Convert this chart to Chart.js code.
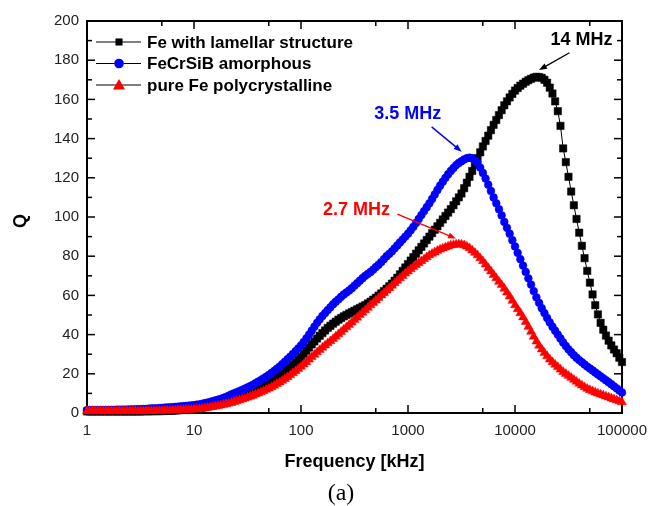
<!DOCTYPE html>
<html>
<head>
<meta charset="utf-8">
<script src="https://cdn.jsdelivr.net/npm/chart.js@4/dist/chart.umd.min.js"></script>
<style>
html,body{margin:0;padding:0;background:#ffffff;}
#wrap{width:659px;height:506px;position:relative;}
</style>
</head>
<body>
<div id="wrap"><canvas id="c" width="659" height="506"></canvas></div>
<script>
// ---------- data ----------
const frequencyKHz = [
  1,1.059,1.122,1.189,1.259,1.334,1.413,1.496,1.585,1.679,1.778,1.884,1.995,2.113,2.239,2.371,2.512,2.661,2.818,2.985,
  3.162,3.350,3.548,3.758,3.981,4.217,4.467,4.732,5.012,5.309,5.623,5.957,6.310,6.683,7.079,7.499,7.943,8.414,8.913,9.441,
  10,10.59,11.22,11.89,12.59,13.34,14.13,14.96,15.85,16.79,17.78,18.84,19.95,21.13,22.39,23.71,25.12,26.61,28.18,29.85,
  31.62,33.50,35.48,37.58,39.81,42.17,44.67,47.32,50.12,53.09,56.23,59.57,63.10,66.83,70.79,74.99,79.43,84.14,89.13,94.41,
  100,105.9,112.2,118.9,125.9,133.4,141.3,149.6,158.5,167.9,177.8,188.4,199.5,211.3,223.9,237.1,251.2,266.1,281.8,298.5,
  316.2,335.0,354.8,375.8,398.1,421.7,446.7,473.2,501.2,530.9,562.3,595.7,631.0,668.3,707.9,749.9,794.3,841.4,891.3,944.1,
  1000,1059,1122,1189,1259,1334,1413,1496,1585,1679,1778,1884,1995,2113,2239,2371,2512,2661,2818,2985,
  3162,3350,3548,3758,3981,4217,4467,4732,5012,5309,5623,5957,6310,6683,7079,7499,7943,8414,8913,9441,
  10000,10590,11220,11890,12590,13340,14130,14960,15850,16790,17780,18840,19950,21130,22390,23710,25120,26610,28180,29850,
  31620,33500,35480,37580,39810,42170,44670,47320,50120,53090,56230,59570,63100,66830,70790,74990,79430,84140,89130,94410,
  100000
];
const qLamellarFe = [
  0.8,0.8,0.8,0.8,0.8,0.8,0.8,0.8,0.8,0.8,0.8,0.8,0.8,0.8,0.8,0.8,0.8,0.8,0.8,0.8,
  0.8,0.85,0.9,0.9,0.9,0.95,1.0,1.0,1.0,1.05,1.1,1.15,1.2,1.3,1.4,1.5,1.6,1.7,1.8,1.95,
  2.1,2.3,2.5,2.75,3.0,3.3,3.6,3.95,4.3,4.7,5.1,5.55,6.0,6.55,7.1,7.65,8.2,8.8,9.4,10.0,
  10.6,11.25,11.9,12.55,13.2,13.9,14.6,15.3,16.0,16.8,17.6,18.45,19.3,20.25,21.2,22.25,23.3,24.55,25.8,27.2,
  28.6,30.2,31.8,33.4,35.0,36.5,38.0,39.4,40.8,42.1,43.4,44.5,45.6,46.6,47.6,48.45,49.3,50.05,50.8,51.5,
  52.2,52.9,53.6,54.3,55.0,55.9,56.8,57.8,58.8,59.9,61.0,62.2,63.4,64.7,66.0,67.5,69.0,70.75,72.5,74.25,
  76.0,77.75,79.5,81.25,83.0,84.75,86.5,88.25,90.0,91.75,93.5,95.25,97.0,98.75,100.5,102.25,104.0,106.0,108.0,110.0,
  112.0,114.7,117.5,120.5,123.5,126.7,130.0,133.0,136.0,138.8,141.5,144.3,147.0,149.5,152.0,154.5,157.0,159.0,161.0,162.8,
  164.5,165.8,167.0,168.0,169.0,169.8,170.5,171.1,171.5,171.4,171.0,170.0,168.5,166.0,163.0,159.0,154.0,146.5,135.0,128.0,
  120.5,113.0,106.0,99.0,92.0,85.3,79.0,72.5,66.5,60.5,55.0,50.3,46.0,42.5,39.5,36.9,34.5,32.4,30.5,28.2,
  26.0
];
const qFeCrSiB = [
  1.5,1.5,1.5,1.5,1.5,1.5,1.5,1.55,1.6,1.6,1.6,1.65,1.7,1.7,1.7,1.75,1.8,1.85,1.9,1.95,
  2.0,2.05,2.1,2.2,2.3,2.35,2.4,2.5,2.6,2.7,2.8,2.9,3.0,3.1,3.2,3.35,3.5,3.6,3.7,3.85,
  4.0,4.2,4.4,4.7,5.0,5.3,5.6,6.0,6.4,6.8,7.2,7.7,8.2,8.85,9.5,10.05,10.6,11.2,11.8,12.4,
  13.0,13.7,14.4,15.2,16.0,16.8,17.6,18.5,19.4,20.45,21.5,22.6,23.7,24.95,26.2,27.5,28.8,30.15,31.5,33.0,
  34.5,36.2,38.0,40.0,42.0,44.0,46.0,47.8,49.5,51.0,52.5,54.0,55.5,56.8,58.0,59.3,60.5,61.5,62.5,63.7,
  65.0,66.2,67.5,68.8,70.0,71.0,72.0,73.2,74.5,75.7,77.0,78.5,80.0,81.2,82.5,84.0,85.5,87.0,88.5,90.0,
  91.5,93.2,95.0,97.0,99.0,101.0,103.0,105.0,107.0,109.2,111.5,113.8,116.0,118.0,120.0,121.8,123.5,125.0,126.5,127.6,
  128.5,129.4,130.0,130.3,130.0,129.0,127.5,125.2,122.5,119.6,116.5,113.3,110.0,107.0,104.0,100.8,97.5,94.5,91.5,88.2,
  85.0,81.7,78.5,75.2,72.0,68.7,65.5,62.2,59.0,56.2,53.5,51.0,48.5,46.2,44.0,42.0,40.0,38.0,36.0,34.2,
  32.5,31.0,29.5,28.2,27.0,25.9,24.8,23.7,22.7,21.7,20.7,19.7,18.7,17.7,16.7,15.7,14.7,13.6,12.6,11.5,
  10.5
];
const qPolyFe = [
  1.0,1.0,1.0,1.0,1.0,1.0,1.0,1.0,1.0,1.0,1.0,1.0,1.0,1.0,1.0,1.0,1.0,1.0,1.0,1.0,
  1.0,1.0,1.0,1.05,1.1,1.1,1.1,1.15,1.2,1.25,1.3,1.35,1.4,1.45,1.5,1.55,1.6,1.65,1.7,1.75,
  1.8,1.95,2.1,2.3,2.5,2.7,2.9,3.15,3.4,3.65,3.9,4.2,4.5,4.85,5.2,5.65,6.1,6.55,7.0,7.45,
  7.9,8.4,8.9,9.45,10.0,10.6,11.2,11.85,12.5,13.25,14.0,14.8,15.6,16.5,17.4,18.35,19.3,20.35,21.4,22.5,
  23.6,24.8,26.0,27.3,28.6,29.8,31.0,32.2,33.4,34.5,35.6,36.7,37.8,39.0,40.2,41.4,42.6,43.8,45.0,46.2,
  47.5,48.7,50.0,51.2,52.5,53.7,55.0,56.2,57.5,58.7,60.0,61.2,62.5,63.7,65.0,66.2,67.5,68.8,70.0,71.2,
  72.3,73.4,74.5,75.5,76.5,77.5,78.5,79.5,80.5,81.3,82.0,82.8,83.5,84.0,84.5,85.0,85.5,85.8,86.0,86.1,
  86.0,85.6,85.0,84.1,83.0,81.8,80.5,79.0,77.5,75.8,74.0,72.3,70.5,68.8,67.0,65.3,63.5,61.5,59.5,57.3,
  55.0,53.0,51.0,48.8,46.5,44.0,41.5,39.0,36.5,34.4,32.5,30.7,29.0,27.4,26.0,24.7,23.5,22.2,21.0,20.0,
  19.0,18.0,17.0,16.0,15.0,14.1,13.2,12.4,11.7,11.1,10.5,10.0,9.5,9.0,8.5,8.0,7.5,7.0,6.5,6.0,
  5.5
];
const seriesNames = ['Fe with lamellar structure', 'FeCrSiB amorphous', 'pure Fe polycrystalline'];
const xTickValues = [1, 10, 100, 1000, 10000, 100000];
const yTickValues = [0, 20, 40, 60, 80, 100, 120, 140, 160, 180, 200];
const peakLabels = ['14 MHz', '3.5 MHz', '2.7 MHz'];
// peak annotation anchors in data space (frequency kHz, Q)
const peakLabelAt = [[41800, 191], [993, 153], [330, 104]];
const peakArrowFrom = [[32300, 183.8], [1663, 146], [795, 101.5]];
const peakArrowTo = [[16750, 175], [3175, 133.3], [2810, 89]];

// ---------- styles ----------
const seriesColors = ['#000000', '#0000ff', '#ff0000'];
const seriesShapes = ['rect', 'circle', 'triangle'];
const seriesRadius = [5.2, 3.9, 5.2];
const legendRadius = [5.0, 4.8, 7.0];
const SANS = '"Liberation Sans", Arial, sans-serif';

function toPoints(ys) { return frequencyKHz.map((f, i) => ({x: f, y: ys[i]})); }
const seriesValues = [qLamellarFe, qFeCrSiB, qPolyFe];

const datasets = seriesValues.map((vals, i) => ({
  label: seriesNames[i],
  data: toPoints(vals),
  borderColor: '#000000',
  borderWidth: 1,
  backgroundColor: seriesColors[i],
  pointBackgroundColor: seriesColors[i],
  pointBorderColor: seriesColors[i],
  pointBorderWidth: 0.5,
  pointStyle: seriesShapes[i],
  pointRadius: seriesRadius[i],
  tension: 0,
  clip: false,
  order: 3 - i
}));

function drawShape(ctx, shape, x, y, r, color) {
  ctx.save();
  ctx.fillStyle = color;
  ctx.beginPath();
  if (shape === 'rect') {
    const s = r * Math.SQRT1_2;
    ctx.rect(x - s, y - s, 2 * s, 2 * s);
  } else if (shape === 'circle') {
    ctx.arc(x, y, r, 0, Math.PI * 2);
  } else {
    ctx.moveTo(x, y - r);
    ctx.lineTo(x + r * Math.sin(2 * Math.PI / 3), y - r * Math.cos(2 * Math.PI / 3));
    ctx.lineTo(x + r * Math.sin(4 * Math.PI / 3), y - r * Math.cos(4 * Math.PI / 3));
    ctx.closePath();
  }
  ctx.fill();
  ctx.restore();
}

function seg(ctx, x1, y1, x2, y2) {
  ctx.beginPath(); ctx.moveTo(x1, y1); ctx.lineTo(x2, y2); ctx.stroke();
}

const framePlugin = {
  id: 'framePlugin',
  beforeDatasetsDraw(chart) {
    const {ctx, chartArea: a, scales: {x, y}} = chart;
    ctx.save();
    ctx.strokeStyle = '#000';
    ctx.lineWidth = 2;
    ctx.strokeRect(a.left, a.top, a.right - a.left, a.bottom - a.top);
    ctx.lineWidth = 1.5;
    for (let v = 0; v <= 200; v += 10) {
      const py = y.getPixelForValue(v);
      const len = (v % 20 === 0) ? 8 : 5;
      seg(ctx, a.left, py, a.left + len, py);
      seg(ctx, a.right, py, a.right - len, py);
    }
    xTickValues.forEach(d => {
      const px = x.getPixelForValue(d);
      seg(ctx, px, a.bottom, px, a.bottom - 8);
      seg(ctx, px, a.top, px, a.top + 8);
      if (d * 5 < 100000) {
        const pm = x.getPixelForValue(d * 5);
        seg(ctx, pm, a.bottom, pm, a.bottom - 5);
        seg(ctx, pm, a.top, pm, a.top + 5);
      }
    });
    ctx.restore();
  },
  afterDraw(chart) {
    const {ctx, chartArea: a, scales: {x, y}} = chart;
    ctx.save();
    // legend
    ctx.font = 'bold 17px ' + SANS;
    ctx.textBaseline = 'middle';
    ctx.textAlign = 'left';
    seriesNames.forEach((name, i) => {
      const ly = a.top + 21 + i * 21.5;
      ctx.strokeStyle = '#000'; ctx.lineWidth = 1.2;
      seg(ctx, a.left + 9, ly, a.left + 54, ly);
      drawShape(ctx, seriesShapes[i], a.left + 32, ly + (i === 2 ? 1 : 0), legendRadius[i], seriesColors[i]);
      ctx.fillStyle = '#000';
      ctx.fillText(name, a.left + 60, ly + 1);
    });
    // peak annotations
    peakLabels.forEach((txt, i) => {
      const c = seriesColors[i];
      ctx.fillStyle = c; ctx.strokeStyle = c;
      ctx.font = 'bold 18px ' + SANS;
      ctx.textAlign = 'center';
      ctx.textBaseline = 'middle';
      ctx.fillText(txt, x.getPixelForValue(peakLabelAt[i][0]), y.getPixelForValue(peakLabelAt[i][1]) + 1);
      const x1 = x.getPixelForValue(peakArrowFrom[i][0]), y1 = y.getPixelForValue(peakArrowFrom[i][1]);
      const x2 = x.getPixelForValue(peakArrowTo[i][0]), y2 = y.getPixelForValue(peakArrowTo[i][1]);
      const ang = Math.atan2(y2 - y1, x2 - x1);
      const hl = 8, hw = 3;
      ctx.lineWidth = 1.4;
      seg(ctx, x1, y1, x2 - Math.cos(ang) * hl * 0.8, y2 - Math.sin(ang) * hl * 0.8);
      ctx.beginPath();
      ctx.moveTo(x2, y2);
      ctx.lineTo(x2 - Math.cos(ang) * hl - Math.sin(ang) * hw, y2 - Math.sin(ang) * hl + Math.cos(ang) * hw);
      ctx.lineTo(x2 - Math.cos(ang) * hl + Math.sin(ang) * hw, y2 - Math.sin(ang) * hl - Math.cos(ang) * hw);
      ctx.closePath();
      ctx.fill();
    });
    // axis titles
    ctx.fillStyle = '#000';
    ctx.font = 'bold 18px ' + SANS;
    ctx.textAlign = 'center';
    ctx.textBaseline = 'middle';
    ctx.fillText('Frequency [kHz]', (a.left + a.right) / 2, 462);
    ctx.save();
    ctx.translate(21, (a.top + a.bottom) / 2 + 4);
    ctx.rotate(-Math.PI / 2);
    ctx.fillText('Q', 0, 0);
    ctx.restore();
    // caption
    ctx.font = '24px "Liberation Serif", "Times New Roman", serif';
    ctx.textAlign = 'center';
    ctx.textBaseline = 'alphabetic';
    ctx.fillText('(a)', 341, 500);
    ctx.restore();
  }
};

new Chart(document.getElementById('c'), {
  type: 'line',
  data: {datasets},
  options: {
    responsive: false,
    devicePixelRatio: 1,
    animation: false,
    layout: {padding: {top: 21, right: 37, left: 0, bottom: 0}},
    plugins: {legend: {display: false}, tooltip: {enabled: false}, title: {display: false}},
    scales: {
      x: {
        type: 'logarithmic', min: 1, max: 100000,
        afterBuildTicks: s => { s.ticks = xTickValues.map(v => ({value: v})); },
        afterFit: s => { s.height = 93; },
        ticks: {
          autoSkip: false, maxRotation: 0, padding: 9, color: '#222',
          font: {family: SANS, size: 15},
          callback: v => String(v)
        },
        grid: {display: false, drawTicks: false, tickLength: 0},
        border: {display: false}
      },
      y: {
        type: 'linear', min: 0, max: 200,
        afterBuildTicks: s => { s.ticks = yTickValues.map(v => ({value: v})); },
        afterFit: s => { s.width = 87; },
        ticks: {
          padding: 8, color: '#222',
          font: {family: SANS, size: 15},
          callback: v => String(v)
        },
        grid: {display: false, drawTicks: false, tickLength: 0},
        border: {display: false}
      }
    }
  },
  plugins: [framePlugin]
});
</script>
</body>
</html>
